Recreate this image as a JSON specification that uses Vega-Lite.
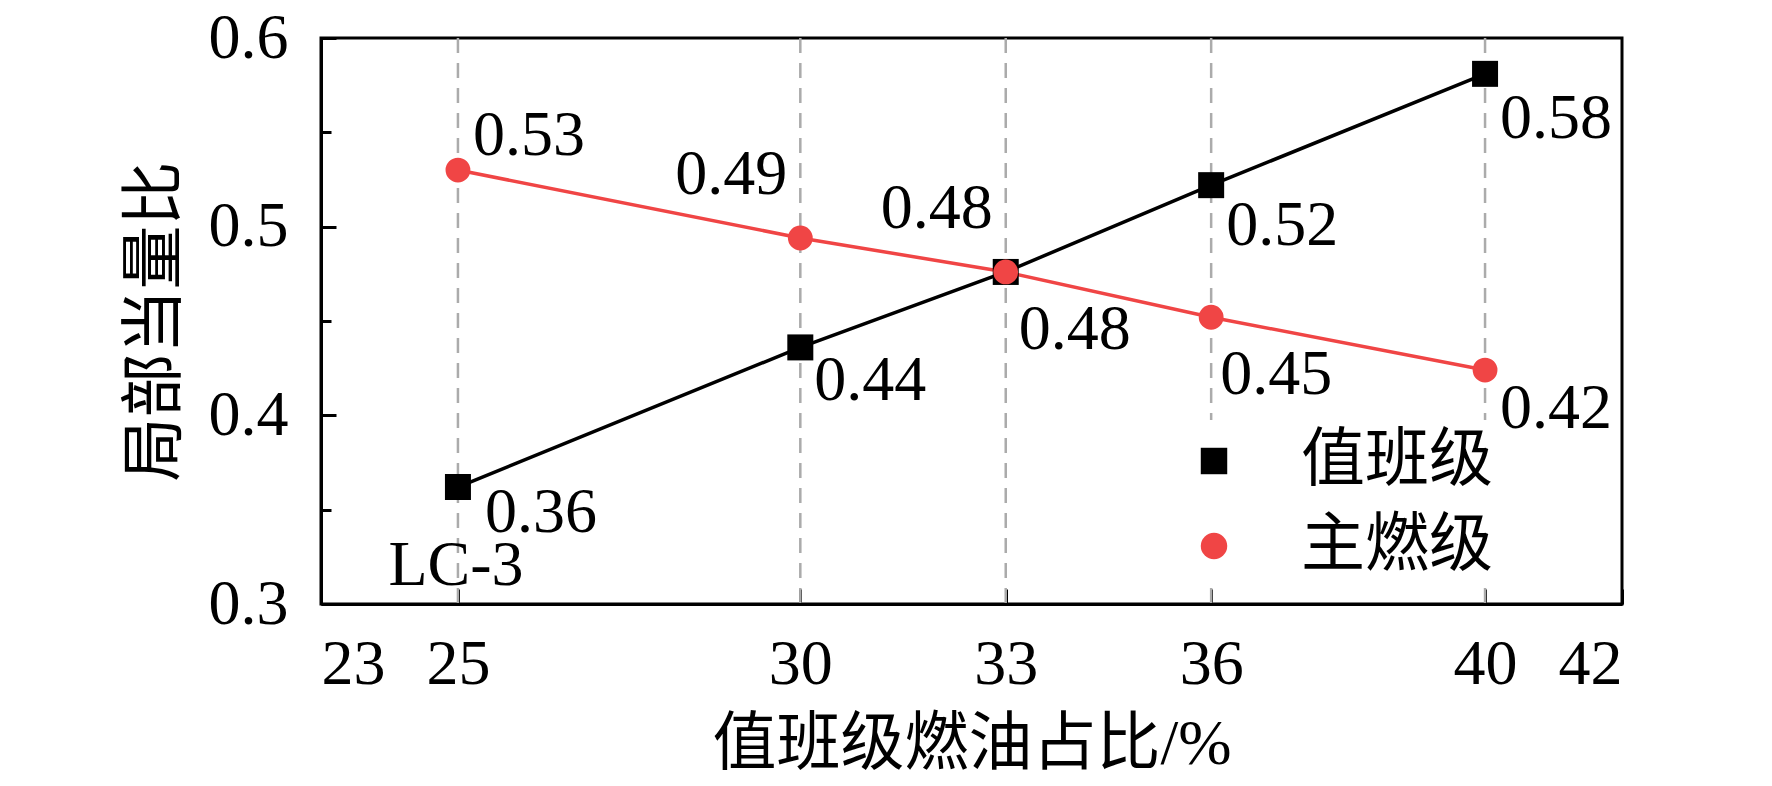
{
  "$schema": "https://vega.github.io/schema/vega-lite/v6.json",
  "autosize": "none",
  "width": 1301,
  "height": 566,
  "padding": {"left": 321, "top": 38, "right": 150, "bottom": 182},
  "background": "white",
  "config": {
    "font": "Liberation Serif, Noto Sans CJK SC",
    "view": {"stroke": "black", "strokeWidth": 3},
    "axis": {
      "domainColor": "black",
      "domainWidth": 3,
      "tickColor": "black",
      "tickWidth": 3,
      "labelFont": "Liberation Serif",
      "labelFontSize": 64,
      "labelColor": "black",
      "titleFont": "Liberation Serif, Noto Sans CJK SC",
      "titleFontSize": 64,
      "titleFontWeight": "normal",
      "titleColor": "black",
      "grid": false
    }
  },
  "data": {
    "values": [
      {"x": 25, "y": 0.362, "s": "值班级"},
      {"x": 30, "y": 0.436, "s": "值班级"},
      {"x": 33, "y": 0.476, "s": "值班级"},
      {"x": 36, "y": 0.522, "s": "值班级"},
      {"x": 40, "y": 0.581, "s": "值班级"},
      {"x": 25, "y": 0.530, "s": "主燃级"},
      {"x": 30, "y": 0.494, "s": "主燃级"},
      {"x": 33, "y": 0.476, "s": "主燃级"},
      {"x": 36, "y": 0.452, "s": "主燃级"},
      {"x": 40, "y": 0.424, "s": "主燃级"}
    ]
  },
  "encoding": {
    "x": {
      "field": "x", "type": "quantitative",
      "scale": {"domain": [23, 42], "nice": false, "zero": false},
      "axis": {
        "values": [23, 25, 30, 33, 36, 40, 42],
        "tickSize": -15,
        "labelPadding": 43,
        "title": "值班级燃油占比/%",
        "titlePadding": 16
      }
    },
    "y": {
      "field": "y", "type": "quantitative",
      "scale": {"domain": [0.3, 0.6], "nice": false, "zero": false},
      "axis": {
        "values": [0.3, 0.35, 0.4, 0.45, 0.5, 0.55, 0.6],
        "labelExpr": "round(datum.value*100) % 10 === 0 ? format(datum.value, '.1f') : ''",
        "tickSize": {"condition": {"test": "round(datum.value*100) % 10 === 0", "value": -15}, "value": -10},
        "labelPadding": 48,
        "title": "局部当量比",
        "titlePadding": 21
      }
    }
  },
  "layer": [
    {
      "transform": [{"filter": "datum.s === '值班级'"}],
      "mark": {"type": "rule", "color": "#ababab", "strokeWidth": 2.5, "strokeDash": [15, 10]},
      "encoding": {"y": null}
    },
    {
      "mark": {"type": "line", "strokeWidth": 3.5},
      "encoding": {
        "color": {"field": "s", "type": "nominal", "scale": {"domain": ["值班级", "主燃级"], "range": ["black", "#f04545"]}},
        "order": {"field": "x"}
      }
    },
    {
      "mark": {"type": "point", "filled": true, "opacity": 1},
      "encoding": {
        "color": {
          "field": "s", "type": "nominal",
          "scale": {"domain": ["值班级", "主燃级"], "range": ["black", "#f04545"]},
          "legend": {
            "orient": "none",
            "legendX": 852,
            "legendY": 382,
            "title": null,
            "fillColor": "white",
            "padding": 9,
            "labelFont": "Liberation Serif, Noto Sans CJK SC",
            "labelFontSize": 64,
            "labelColor": "black",
            "labelOffset": 55,
            "labelLimit": 500,
            "rowPadding": 21,
            "symbolSize": 700,
            "symbolStrokeWidth": 0,
            "symbolOpacity": 1
          }
        },
        "shape": {"field": "s", "type": "nominal", "scale": {"domain": ["值班级", "主燃级"], "range": ["square", "circle"]}, "legend": null},
        "size": {"condition": {"test": "datum.s === '值班级'", "value": 676}, "value": 616}
      }
    },
    {
      "transform": [{"filter": "datum.s === '值班级' && datum.x === 25"}],
      "mark": {"type": "text", "align": "left", "baseline": "middle", "dx": 27, "dy": 26, "fontSize": 64, "font": "Liberation Serif", "color": "black"},
      "encoding": {"text": {"field": "y", "format": ".2f"}}
    },
    {
      "transform": [{"filter": "datum.s === '值班级' && datum.x === 25"}],
      "mark": {"type": "text", "align": "center", "baseline": "middle", "dx": -2, "dy": 79, "fontSize": 64, "font": "Liberation Serif", "color": "black"},
      "encoding": {"text": {"value": "LC-3"}}
    },
    {
      "transform": [{"filter": "datum.s === '值班级' && datum.x === 30"}],
      "mark": {"type": "text", "align": "left", "baseline": "middle", "dx": 14, "dy": 34, "fontSize": 64, "font": "Liberation Serif", "color": "black"},
      "encoding": {"text": {"field": "y", "format": ".2f"}}
    },
    {
      "transform": [{"filter": "datum.s === '值班级' && datum.x === 33"}],
      "mark": {"type": "text", "align": "left", "baseline": "middle", "dx": 13, "dy": 58, "fontSize": 64, "font": "Liberation Serif", "color": "black"},
      "encoding": {"text": {"field": "y", "format": ".2f"}}
    },
    {
      "transform": [{"filter": "datum.s === '值班级' && datum.x === 36"}],
      "mark": {"type": "text", "align": "left", "baseline": "middle", "dx": 15, "dy": 41, "fontSize": 64, "font": "Liberation Serif", "color": "black"},
      "encoding": {"text": {"field": "y", "format": ".2f"}}
    },
    {
      "transform": [{"filter": "datum.s === '值班级' && datum.x === 40"}],
      "mark": {"type": "text", "align": "left", "baseline": "middle", "dx": 15, "dy": 45, "fontSize": 64, "font": "Liberation Serif", "color": "black"},
      "encoding": {"text": {"field": "y", "format": ".2f"}}
    },
    {
      "transform": [{"filter": "datum.s === '主燃级' && datum.x === 25"}],
      "mark": {"type": "text", "align": "left", "baseline": "middle", "dx": 15, "dy": -34, "fontSize": 64, "font": "Liberation Serif", "color": "black"},
      "encoding": {"text": {"field": "y", "format": ".2f"}}
    },
    {
      "transform": [{"filter": "datum.s === '主燃级' && (datum.x === 30 || datum.x === 33)"}],
      "mark": {"type": "text", "align": "right", "baseline": "middle", "dx": -13, "dy": -63, "fontSize": 64, "font": "Liberation Serif", "color": "black"},
      "encoding": {"text": {"field": "y", "format": ".2f"}}
    },
    {
      "transform": [{"filter": "datum.s === '主燃级' && datum.x === 36"}],
      "mark": {"type": "text", "align": "left", "baseline": "middle", "dx": 9, "dy": 58, "fontSize": 64, "font": "Liberation Serif", "color": "black"},
      "encoding": {"text": {"field": "y", "format": ".2f"}}
    },
    {
      "transform": [{"filter": "datum.s === '主燃级' && datum.x === 40"}],
      "mark": {"type": "text", "align": "left", "baseline": "middle", "dx": 15, "dy": 39, "fontSize": 64, "font": "Liberation Serif", "color": "black"},
      "encoding": {"text": {"field": "y", "format": ".2f"}}
    }
  ]
}
